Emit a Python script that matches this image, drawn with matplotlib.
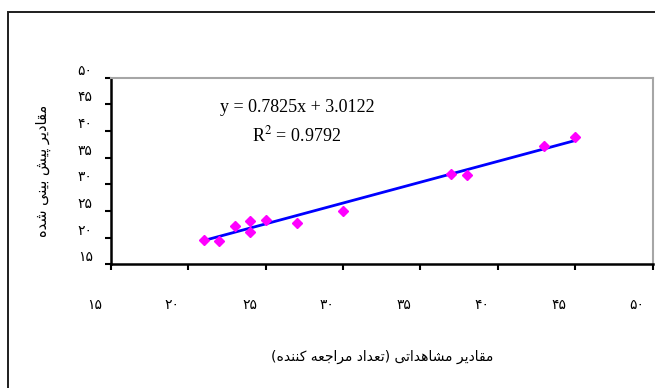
import matplotlib
matplotlib.use("Agg")
import matplotlib.pyplot as plt
import matplotlib.transforms as mtransforms
from matplotlib.patches import Rectangle
import numpy as np

observed = [21, 22, 23, 24, 24, 25, 27, 30, 37, 38, 43, 45]
predicted = [19.6, 19.3, 22.2, 23.2, 21.1, 23.3, 22.7, 25.0, 32.0, 31.8, 37.2, 38.8]
slope = 0.7825
intercept = 3.0122
r2 = 0.9792
ticks = [15, 20, 25, 30, 35, 40, 45, 50]

xlabel = "مقادیر مشاهداتی (تعداد مراجعه کننده)"
ylabel = "مقادیر پیش بینی شده"

plt.rcParams['mathtext.fontset'] = 'stix'

# arabic letters: isolated, final, initial, medial
forms = {
    'ا': ('\uFE8D', '\uFE8E', None, None),
    'ب': ('\uFE8F', '\uFE90', '\uFE91', '\uFE92'),
    'پ': ('\uFB56', '\uFB57', '\uFB58', '\uFB59'),
    'ت': ('\uFE95', '\uFE96', '\uFE97', '\uFE98'),
    'ج': ('\uFE9D', '\uFE9E', '\uFE9F', '\uFEA0'),
    'د': ('\uFEA9', '\uFEAA', None, None),
    'ر': ('\uFEAD', '\uFEAE', None, None),
    'ش': ('\uFEB5', '\uFEB6', '\uFEB7', '\uFEB8'),
    'ع': ('\uFEC9', '\uFECA', '\uFECB', '\uFECC'),
    'ق': ('\uFED5', '\uFED6', '\uFED7', '\uFED8'),
    'ک': ('\uFB8E', '\uFB8F', '\uFB90', '\uFB91'),
    'م': ('\uFEE1', '\uFEE2', '\uFEE3', '\uFEE4'),
    'ن': ('\uFEE5', '\uFEE6', '\uFEE7', '\uFEE8'),
    'ه': ('\uFEE9', '\uFEEA', '\uFEEB', '\uFEEC'),
    'ی': ('\uFBFC', '\uFBFD', '\uFBFE', '\uFBFF'),
}


def shape(s):
    out = []
    for i, c in enumerate(s):
        if c not in forms:
            out.append(c)
            continue
        prev = s[i - 1] if i > 0 else ''
        nxt = s[i + 1] if i + 1 < len(s) else ''
        jp = prev in forms and forms[prev][2] is not None
        jn = forms[c][2] is not None and nxt in forms
        iso, fin, ini, med = forms[c]
        if jp and jn:
            out.append(med)
        elif jp:
            out.append(fin)
        elif jn:
            out.append(ini)
        else:
            out.append(iso)
    vis = ''.join(reversed(out))
    return vis.translate(str.maketrans('()', ')('))


def fa_num(n):
    return ''.join("۰۱۲۳۴۵۶۷۸۹"[int(d)] for d in str(n))


fig = plt.figure(figsize=(6.55, 3.88), dpi=100)
ax = fig.add_axes([110.7 / 655, 1 - 264.3 / 388, 542 / 655, 186.6 / 388])

# outer chart border (right/bottom edges fall outside the picture)
fig.patches.append(Rectangle((8 / 655, -0.1), 1.2, 1 - 12 / 388 + 0.1, transform=fig.transFigure,
                             fill=False, edgecolor='#1e1e1e', linewidth=1.4))

xs = np.array([min(observed), max(observed)])
ax.plot(xs, slope * xs + intercept, color='#0000FF', linewidth=2, zorder=2)
ax.plot(observed, predicted, linestyle='none', marker='D', markersize=5,
        color='#FF00FF', zorder=3)

ax.set_xlim(15, 50)
ax.set_ylim(15, 50)
ax.set_xticks(ticks)
ax.set_yticks(ticks)
ax.set_xticklabels([])
ax.set_yticklabels([])
ax.tick_params(direction='out', length=4, width=1.5, color='black')

for side in ['left', 'bottom']:
    ax.spines[side].set_color('black')
    ax.spines[side].set_linewidth(1.8)
for side in ['top', 'right']:
    ax.spines[side].set_color('#a6a6a6')
    ax.spines[side].set_linewidth(1.5)

# tick labels, shifted the way the original draws them
xoff = mtransforms.ScaledTranslation(-16 / 100, -41 / 100, fig.dpi_scale_trans)
yoff = mtransforms.ScaledTranslation(-18 / 100, 7 / 100, fig.dpi_scale_trans)
for t in ticks:
    ax.text(t, 0, fa_num(t), transform=ax.get_xaxis_transform() + xoff,
            ha='center', va='center', fontsize=10, family='DejaVu Sans')
    ax.text(0, t, fa_num(t), transform=ax.get_yaxis_transform() + yoff,
            ha='right', va='center', fontsize=10, family='DejaVu Sans')

fig.text(382 / 655, 1 - 357 / 388, shape(xlabel), ha='center', va='center',
         fontsize=10, family='DejaVu Sans')
fig.text(43 / 655, 1 - 171 / 388, shape(ylabel), ha='center', va='center',
         rotation=90, fontsize=10.5, family='DejaVu Sans')

fig.text(297 / 655, 1 - 107 / 388, 'y = %.4fx + %.4f' % (slope, intercept),
         ha='center', va='center', fontsize=13, family='Liberation Serif')
fig.text(297 / 655, 1 - 135 / 388, 'R$^2$ = %.4f' % r2,
         ha='center', va='center', fontsize=13, family='Liberation Serif')

fig.savefig('out.png', dpi=100)
